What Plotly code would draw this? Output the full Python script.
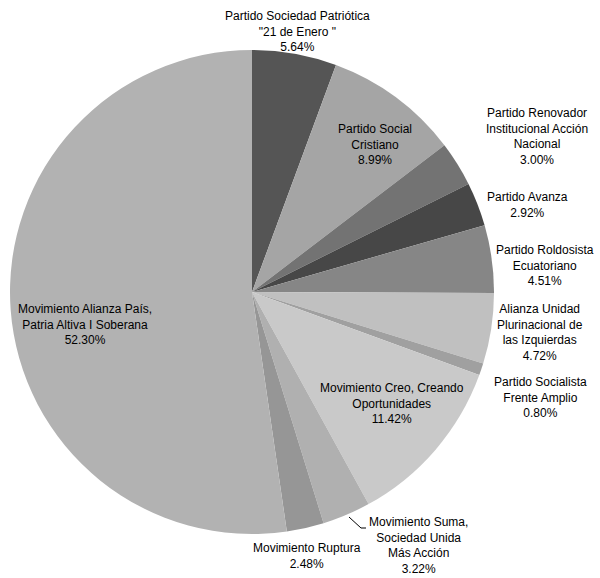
import plotly.graph_objects as go

labels = [
    "Partido Sociedad Patriótica \"21 de Enero \"",
    "Partido Social Cristiano",
    "Partido Renovador Institucional Acción Nacional",
    "Partido Avanza",
    "Partido Roldosista Ecuatoriano",
    "Alianza Unidad Plurinacional de las Izquierdas",
    "Partido Socialista Frente Amplio",
    "Movimiento Creo, Creando Oportunidades",
    "Movimiento Suma, Sociedad Unida Más Acción",
    "Movimiento Ruptura",
    "Movimiento Alianza País, Patria Altiva I Soberana",
]
values = [5.64, 8.99, 3.00, 2.92, 4.51, 4.72, 0.80, 11.42, 3.22, 2.48, 52.30]
label_lines = [
    "Partido Sociedad Patriótica<br>\"21 de Enero \"",
    "Partido Social<br>Cristiano",
    "Partido Renovador<br>Institucional Acción<br>Nacional",
    "Partido Avanza",
    "Partido Roldosista<br>Ecuatoriano",
    "Alianza Unidad<br>Plurinacional de<br>las Izquierdas",
    "Partido Socialista<br>Frente Amplio",
    "Movimiento Creo, Creando<br>Oportunidades",
    "Movimiento Suma,<br>Sociedad Unida<br>Más Acción",
    "Movimiento Ruptura",
    "Movimiento Alianza País,<br>Patria Altiva I Soberana",
]
colors = ["#555555", "#a5a5a5", "#737373", "#474747", "#868686", "#c0c0c0",
          "#a0a0a0", "#c9c9c9", "#b0b0b0", "#969696", "#b2b2b2"]
# label centre positions in pixels (x, y from top)
label_pos = [(297, 31), (375, 145), (537, 137), (527, 205), (545, 265), (540, 332),
             (540, 397), (392, 403), (418, 545), (307, 556), (85, 324)]

W, H = 600, 578
cx, cy, r = 252, 292, 242

fig = go.Figure(go.Pie(
    labels=labels, values=values, sort=False, direction="clockwise", rotation=0,
    marker=dict(colors=colors, line=dict(width=0)),
    textinfo="none", hoverinfo="label+percent",
    domain=dict(x=[(cx - r) / W, (cx + r) / W], y=[(H - cy - r) / H, (H - cy + r) / H]),
    showlegend=False,
))

for txt, v, (px, py) in zip(label_lines, values, label_pos):
    fig.add_annotation(
        x=px / W, y=1 - py / H, xref="paper", yref="paper",
        text=f"{txt}<br>{v:.2f}%", showarrow=False, align="center",
        xanchor="center", yanchor="middle",
        font=dict(family="Liberation Sans, Arial", size=12, color="#000000"),
    )

# leader line for Movimiento Suma
fig.add_shape(type="path", xref="paper", yref="paper",
              path=f"M {349/W} {1-517/H} L {361/W} {1-528/H} L {366/W} {1-528/H}",
              line=dict(color="#000000", width=1))

fig.update_layout(width=W, height=H, margin=dict(l=0, r=0, t=0, b=0),
                  paper_bgcolor="white", plot_bgcolor="white")
fig.write_html("out.html")
